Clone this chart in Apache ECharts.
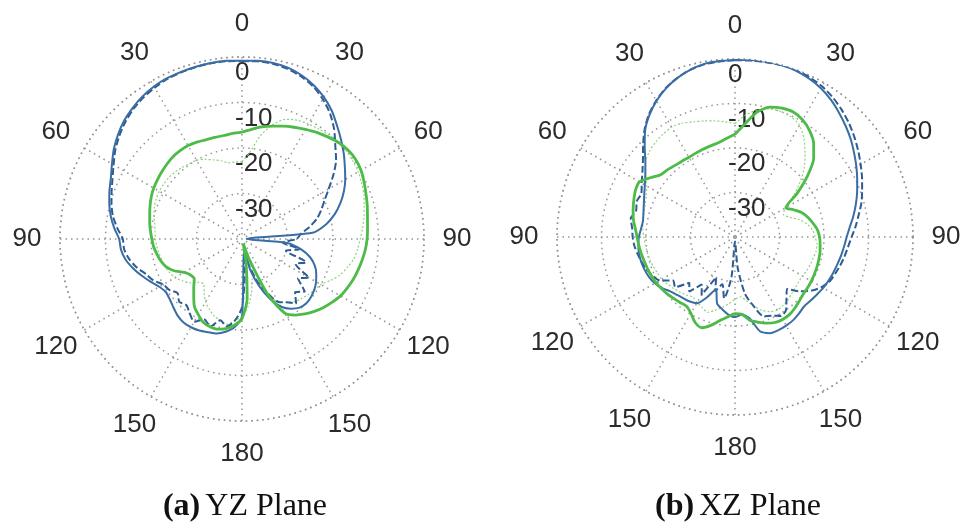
<!DOCTYPE html>
<html>
<head>
<meta charset="utf-8">
<script src="https://cdn.jsdelivr.net/npm/echarts@6/dist/echarts.min.js"></script>
<style>
  html, body { margin: 0; padding: 0; background: #fff; }
  #main { width: 967px; height: 527px; }
</style>
</head>
<body>
<div id="main"></div>
<script>
// angles in degrees, clockwise from the top, every 5 degrees (0..355)
const angles = [0, 5, 10, 15, 20, 25, 30, 35, 40, 45, 50, 55, 60, 65, 70, 75, 80, 85,
  90, 95, 100, 105, 110, 115, 120, 125, 130, 135, 140, 145, 150, 155, 160, 165, 170, 175,
  180, 185, 190, 195, 200, 205, 210, 215, 220, 225, 230, 235, 240, 245, 250, 255, 260, 265,
  270, 275, 280, 285, 290, 295, 300, 305, 310, 315, 320, 325, 330, 335, 340, 345, 350, 355];

// (a) YZ plane, dB
const yzBlueSim = [-0.8, -0.7, -0.7, -1.0, -1.7, -2.7, -4.0, -5.6, -7.5, -9.2, -10.8, -12.4, -13.8, -15.3, -17.0, -18.9, -21.2, -24.5,
  -39, -30, -26.8, -24.5, -23, -22, -21.2, -20.6, -20.2, -20, -20.3, -21.3, -22.8, -25.5, -29, -33, -37, -36,
  -23, -20.5, -19.3, -18.5, -18.2, -17.8, -17.6, -17.6, -18, -18.7, -19.3, -19.6, -19, -17.8, -16.5, -15.2, -14, -13.3,
  -13, -11.8, -10.7, -9.8, -9, -8.2, -7, -5.6, -4.4, -3.3, -2.5, -1.8, -1.3, -1.0, -0.9, -0.8, -0.7, -0.7];
const yzBlueMeas = [-0.9, -0.8, -0.9, -1.3, -2, -3, -4.5, -6.3, -8.5, -11, -13, -15.5, -18, -20, -21.5, -23, -25, -27,
  -28, -31, -27, -30, -25, -27, -23, -25, -22, -23.5, -21.5, -23, -24, -27, -30, -34, -37, -33,
  -25, -22, -20.5, -21.5, -19.5, -20.5, -19, -20, -21, -20.5, -21.5, -20.5, -20, -18.5, -17.5, -16, -14.8, -14,
  -13.8, -12.5, -11.2, -10.3, -9.5, -8.6, -7.4, -6, -4.8, -3.7, -2.8, -2.1, -1.6, -1.2, -1.0, -0.9, -0.8, -0.8];
const yzGreenSim = [-16.5, -15.8, -15, -14.3, -13.6, -12.9, -12.2, -11.4, -10.7, -10, -9.6, -9.5, -9.8, -10.4, -11, -11.5, -12, -12.3,
  -12.5, -12.8, -13.2, -13.6, -14, -14.5, -15, -15.8, -16.6, -17.5, -18.5, -19.6, -21.2, -26.5, -35, -39, -35, -27,
  -22.5, -21, -20, -19.5, -19.5, -19.8, -20.8, -21.8, -23.5, -25, -26.3, -26.2, -25.3, -23.5, -22.2, -21.5, -21, -20.5,
  -20.2, -19.8, -19.4, -19, -18.5, -18, -17.6, -17.3, -17, -16.7, -16.4, -16.3, -16.3, -16.5, -16.8, -16.9, -16.9, -16.7];
const yzGreenMeas = [-23, -21, -17, -14, -12, -11.2, -10.8, -10.5, -10.2, -10, -10, -10.2, -10.5, -11, -11.5, -12.2, -12.8, -13.4,
  -14, -14.5, -15, -16, -17, -18.5, -20, -20.5, -21, -21.5, -22, -23, -24, -27, -30, -31, -28, -25,
  -23, -22, -21, -21.5, -22, -23, -24, -25.5, -27, -26.5, -25, -24, -23, -22.5, -22, -21.8, -21.5, -21.2,
  -21, -20.8, -20.5, -20, -19.5, -19.2, -19, -19, -19, -19.2, -19.5, -19.8, -20, -20.7, -21.5, -22.2, -23, -23];

// (b) XZ plane, dB
const xzBlueSim = [-0.2, -0.1, 0, 0, -0.2, -0.7, -1.4, -2.4, -3.6, -4.8, -6, -7.3, -8.5, -9.7, -10.8, -11.9, -13, -14.1,
  -14.9, -15.4, -15.8, -16.2, -16.5, -16.8, -17.1, -17.5, -17.8, -18, -17.6, -17.2, -17, -16.9, -17, -18, -21.5, -22.5,
  -22, -22.5, -23.5, -24.5, -27.5, -25, -22.8, -22.3, -22, -21.6, -21, -20, -19.2, -18.7, -18.4, -18.2, -18.1, -18.2,
  -18.4, -18.8, -19, -18.7, -18.2, -17.5, -16.6, -15.4, -13.7, -11.3, -8.6, -6.5, -4.7, -3.2, -2, -1.1, -0.5, -0.3];
const xzBlueMeas = [-0.3, -0.2, -0.1, 0, 0, -0.4, -0.9, -1.7, -2.7, -3.8, -5, -6.2, -7.4, -8.5, -9.6, -10.6, -11.8, -12.8,
  -13.8, -14.5, -15, -15.5, -16, -16.5, -17.5, -19, -21, -23.5, -22, -20, -19.5, -20.5, -21, -24, -27, -33,
  -39, -31, -26, -29, -27, -30, -25, -27, -24, -25.5, -22.5, -23, -20.5, -19.5, -18.8, -18.3, -17.8, -17.3,
  -17, -16.8, -16.2, -17, -16.5, -16.8, -15.8, -14.6, -13, -10.8, -8.4, -6.3, -4.6, -3.1, -2, -1.1, -0.6, -0.4];
const xzGreenSim = [-16.9, -14.5, -11.5, -9.8, -9.2, -9.0, -9.6, -10.8, -12.5, -15, -18.8, -23, -26.8, -25.5, -24, -23, -22.2, -21.4,
  -21, -20.8, -20.6, -20.5, -20.4, -20.3, -20.2, -20.1, -20, -19.6, -19.1, -18.7, -18.6, -18.8, -19.4, -20.2, -21, -22.6,
  -22.8, -22, -21, -19.5, -18.3, -18.8, -20.2, -21, -20.8, -20.5, -20.1, -19.8, -19.5, -19.3, -19.1, -18.9, -18.6, -18.3,
  -18, -17.5, -16.8, -16.3, -15.8, -15.3, -15.2, -16.8, -18.2, -18.6, -19, -19.2, -19.3, -19.2, -19, -18.8, -18.5, -17.8];
const xzGreenMeas = [-14.5, -12.5, -11, -10.2, -10, -10.2, -11, -13, -15.5, -18, -21, -24, -27, -28, -27, -25, -23.5, -22.5,
  -22, -21.5, -21.5, -21.8, -22, -22.2, -22.5, -22.5, -22.3, -22, -21.5, -21.2, -21, -21.5, -22.5, -24, -25.5, -26.5,
  -26, -25, -24, -23, -22, -22.5, -23, -23.5, -23, -22.5, -22, -21.5, -21, -20.8, -20.5, -20.2, -20, -19.8,
  -19.5, -19.2, -19, -18.8, -18.5, -18, -17, -15.5, -13.8, -12.8, -12.2, -11.8, -11.5, -11.8, -12.5, -13, -13.5, -14];

const angleTicks = [0, 30, 60, 90, 120, 150, 180, 150, 120, 90, 60, 30];
const radiusTicks = [0, -10, -20, -30];
const captions = [['(a)', 'YZ Plane'], ['(b)', 'XZ Plane']];

const blue = '#3a6da3';
const blueDark = '#2d5c92';
const green = '#4dbb47';
const greenLight = '#8fd27f';

function closed(vals) {
  const pts = angles.map((a, i) => [vals[i], a]);
  pts.push([vals[0], 360]);
  return pts;
}

const dotted = { color: '#959595', width: 1.5, type: [1.5, 4] };
const labelFont = { fontFamily: 'Liberation Sans', fontSize: 26, color: '#2b2b2b' };
const LABEL_MARGIN = -12;

// padding per angle label so every label is centred on a circle just outside the plot
// (horizontal padding shifts the text fully, vertical padding only by half)
function angleRich() {
  const rich = {};
  const dist = 33 - LABEL_MARGIN;
  angleTicks.forEach((t, i) => {
    const th = i * 30 * Math.PI / 180;
    const ux = Math.sin(th), uy = -Math.cos(th);
    const w = String(t).length * 14.5, h = 26;
    const dx = dist * ux, dy = dist * uy;
    let pl = 0, pr = 0, pt = 0, pb = 0;
    if (Math.abs(ux) >= 0.3) {
      if (ux > 0) pl = Math.max(0, dx - w / 2); else pr = Math.max(0, -dx - w / 2);
    }
    if (Math.abs(uy) >= 0.3) {
      if (uy > 0) pt = Math.max(0, 2 * dy - h); else pb = Math.max(0, -2 * dy - h);
    }
    rich['p' + i] = Object.assign({ padding: [pt, pr, pb, pl], lineHeight: h }, labelFont);
  });
  return rich;
}

function angleAxis(idx) {
  return {
    polarIndex: idx,
    type: 'value', min: 0, max: 360, interval: 30,
    startAngle: 90, clockwise: true,
    axisLine: { show: true, lineStyle: dotted },
    axisTick: { show: false },
    splitLine: { show: true, lineStyle: dotted },
    axisLabel: Object.assign({
      margin: LABEL_MARGIN,
      rich: angleRich(),
      formatter: v => (v >= 360 ? '' : '{p' + (v / 30) + '|' + angleTicks[v / 30] + '}')
    }, labelFont)
  };
}

function radiusAxis(idx) {
  return {
    polarIndex: idx,
    type: 'value', min: -40, max: 0, interval: 10,
    axisLine: { show: false },
    axisTick: { show: false },
    splitLine: { show: true, lineStyle: dotted },
    axisLabel: Object.assign({
      margin: 7,
      align: 'left',
      verticalAlign: 'top',
      padding: [3, 0, 0, 0],
      formatter: v => (radiusTicks.indexOf(v) >= 0 ? String(v) : '')
    }, labelFont)
  };
}

function line(idx, vals, color, width, type) {
  return {
    type: 'line', coordinateSystem: 'polar', polarIndex: idx,
    data: closed(vals), showSymbol: false, smooth: 0.25, silent: true,
    lineStyle: { color: color, width: width, type: type }
  };
}

const chart = echarts.init(document.getElementById('main'));
chart.setOption({
  backgroundColor: '#fff',
  animation: false,
  polar: [
    { center: [242, 239], radius: 182 },
    { center: [735, 237], radius: 178 }
  ],
  angleAxis: [angleAxis(0), angleAxis(1)],
  radiusAxis: [radiusAxis(0), radiusAxis(1)],
  title: captions.map((c, i) => ({
    text: '{b|' + c[0] + '} {n|' + c[1] + '}',
    left: i === 0 ? 240 : 733,
    top: 486,
    textAlign: 'center',
    textStyle: {
      rich: {
        b: { fontFamily: 'Liberation Serif', fontWeight: 'bold', fontSize: 32, color: '#111' },
        n: { fontFamily: 'Liberation Serif', fontWeight: 'normal', fontSize: 32, color: '#111' }
      }
    }
  })),
  series: [
    line(0, yzGreenMeas, greenLight, 1.2, [2, 2]),
    line(0, yzBlueMeas, blueDark, 2, [7, 3]),
    line(0, yzBlueSim, blue, 2, 'solid'),
    line(0, yzGreenSim, green, 2.8, 'solid'),
    line(1, xzGreenMeas, greenLight, 1.2, [2, 2]),
    line(1, xzBlueMeas, blueDark, 2, [7, 3]),
    line(1, xzBlueSim, blue, 2, 'solid'),
    line(1, xzGreenSim, green, 2.8, 'solid')
  ]
});
</script>
</body>
</html>
